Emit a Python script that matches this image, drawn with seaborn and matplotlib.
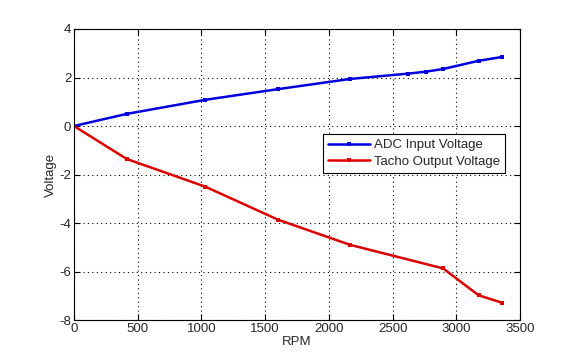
import matplotlib

matplotlib.use("Agg")
import matplotlib.pyplot as plt
import pandas as pd
import seaborn as sns

# values
adc_rpm = [0, 414, 1030, 1600, 2167, 2620, 2760, 2896, 3175, 3362]
adc_volt = [0.0, 0.50, 1.08, 1.52, 1.94, 2.16, 2.24, 2.35, 2.69, 2.85]
tacho_rpm = [0, 414, 1030, 1600, 2167, 2896, 3175, 3362]
tacho_volt = [0.0, -1.36, -2.50, -3.86, -4.90, -5.87, -6.98, -7.29]

x_ticks = [0, 500, 1000, 1500, 2000, 2500, 3000, 3500]
y_ticks = [-8, -6, -4, -2, 0, 2, 4]

df = pd.concat(
    [
        pd.DataFrame({"RPM": adc_rpm, "Voltage": adc_volt, "series": "ADC Input Voltage"}),
        pd.DataFrame({"RPM": tacho_rpm, "Voltage": tacho_volt, "series": "Tacho Output Voltage"}),
    ],
    ignore_index=True,
)

sns.set_style("white")
plt.rcParams["font.family"] = ["Liberation Sans", "DejaVu Sans"]
plt.rcParams["axes.unicode_minus"] = False

fig = plt.figure(figsize=(5.69, 3.58), dpi=100)
ax = fig.add_axes([0.130, 0.106, 0.784, 0.813])

sns.lineplot(
    data=df,
    x="RPM",
    y="Voltage",
    hue="series",
    palette={"ADC Input Voltage": "#0000dd", "Tacho Output Voltage": "#dd0000"},
    marker="s",
    markersize=3.5,
    markeredgewidth=0,
    linewidth=1.8,
    sort=False,
    ax=ax,
)

ax.set_xlim(0, 3500)
ax.set_ylim(-8, 4)
ax.set_xticks(x_ticks)
ax.set_yticks(y_ticks)
ax.grid(True, color="black", linestyle=(0, (1, 3)), linewidth=0.8)
ax.tick_params(direction="in", length=4, labelsize=9.5, top=True, right=True,
               bottom=True, left=True, color="black", pad=2)
for spine in ax.spines.values():
    spine.set_color("black")
    spine.set_linewidth(0.8)
ax.set_xlabel("RPM", fontsize=9.5, labelpad=1)
ax.set_ylabel("Voltage", fontsize=9.5, labelpad=2)

leg = ax.legend(
    loc="upper right",
    bbox_to_anchor=(0.982, 0.663),
    fontsize=9.5,
    frameon=True,
    fancybox=False,
    edgecolor="black",
    framealpha=1,
    handlelength=3.2,
    borderpad=0.4,
    labelspacing=0.35,
    handletextpad=0.3,
)
leg.get_frame().set_linewidth(0.8)

fig.savefig("out.png", dpi=100)
